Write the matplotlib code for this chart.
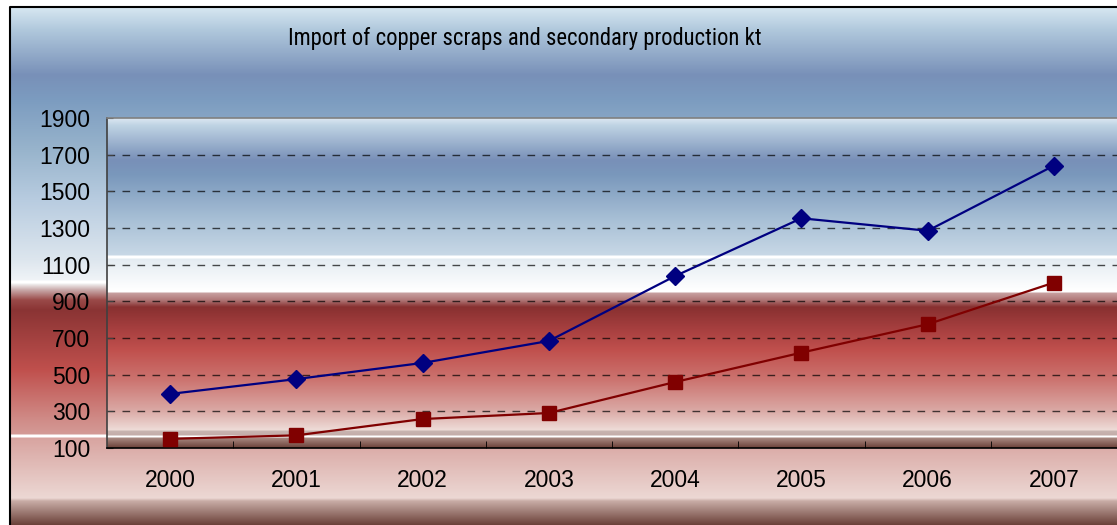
import numpy as np
import matplotlib
matplotlib.use("Agg")
import matplotlib.pyplot as plt
from matplotlib.colors import to_rgb

plt.rcParams['font.family'] = ['Liberation Sans', 'DejaVu Sans']
plt.rcParams['lines.scale_dashes'] = False

# data
years = ['2000', '2001', '2002', '2003', '2004', '2005', '2006', '2007']
import_scraps = [395, 476, 564, 684, 1038, 1353, 1285, 1640]
secondary_prod = [150, 169, 258, 291, 460, 620, 775, 1002]
y_ticks = [100, 300, 500, 700, 900, 1100, 1300, 1500, 1700, 1900]
title = "Import of copper scraps and secondary production kt"

W, H = 1117, 525


def gradient(stops, y0, y1):
    # vertical colour ramp, one row per pixel
    ys = np.arange(y0, y1) + 0.5
    pos = [p for p, c in stops]
    cols = np.array([to_rgb(c) for p, c in stops])
    img = np.stack([np.interp(ys, pos, cols[:, k]) for k in range(3)], axis=-1)
    return img[:, None, :]


fig_stops = [
    (7, '#d8e8f2'), (30, '#b0c8dc'), (75, '#7890b8'), (100, '#7c9cc0'),
    (150, '#98b4cc'), (200, '#b8cce0'), (260, '#dde6ee'), (280, '#f0f4f7'),
    (281, '#ffffff'), (283, '#ffffff'), (284, '#f0eeee'), (290, '#c8a8a8'),
    (300, '#9a4a48'), (310, '#8a3434'), (370, '#c0504d'), (420, '#d08c88'),
    (434, '#d49a96'), (435, '#ffffff'), (437, '#ffffff'), (438, '#d8a4a0'),
    (498, '#ecd8d4'), (501, '#c8aca6'), (525, '#6a4038'),
]

plot_stops = [
    (118, '#dce8f2'), (125, '#c0d4e4'), (160, '#7890b8'), (175, '#7a98bc'),
    (220, '#a8c0d6'), (255, '#c8d8e6'), (256, '#ffffff'), (258, '#ffffff'),
    (259, '#e4ecf2'), (290, '#ffffff'), (292, '#ffffff'), (293, '#c8a0a0'),
    (300, '#b07878'), (307, '#883030'), (330, '#a84040'), (350, '#c0504d'),
    (380, '#cc7470'), (410, '#daa8a4'), (430, '#eedcd8'), (431, '#c8b4b0'),
    (435, '#c4aca8'), (436, '#ffffff'), (437, '#ffffff'), (438, '#a88880'),
    (448, '#6a4038'),
]

fig = plt.figure(figsize=(W / 100, H / 100), dpi=100)

# figure background in pixel coordinates
bg = fig.add_axes([0, 0, 1, 1])
bg.axis('off')
bg.imshow(gradient(fig_stops, 7, H), extent=(10, W, H, 7), aspect='auto',
          interpolation='nearest')
bg.plot([10, 10, W], [H, 7, 7], color='black', lw=1.5)
bg.set_xlim(0, W)
bg.set_ylim(H, 0)

ax = fig.add_axes([107 / W, (H - 448) / H, (W - 107) / W, (448 - 118) / H])
x = np.arange(len(years))
ax.imshow(gradient(plot_stops, 118, 448)[::-1], extent=(-0.5, 7.5, 100, 1900),
          aspect='auto', origin='lower', interpolation='nearest', zorder=0)

for v in y_ticks[1:-1]:
    ax.axhline(v, color='black', alpha=0.7, lw=1, dashes=(5.5, 5.3), zorder=1)

ax.plot(x, import_scraps, color='#000080', lw=1.6, marker='D', ms=9, zorder=3)
ax.plot(x, secondary_prod, color='#800000', lw=1.6, marker='s', ms=10.5, zorder=3)

ax.set_xlim(-0.5, 7.5)
ax.set_ylim(100, 1900)
ax.set_yticks(y_ticks)
ax.set_xticks(x)
ax.set_xticklabels(years)
ax.set_xticks(np.arange(0.5, 7.5, 1), minor=True)
ax.tick_params(axis='x', which='major', length=0, pad=15, labelsize=16.5)
ax.tick_params(axis='x', which='minor', direction='in', length=5, color='black')
ax.tick_params(axis='y', direction='in', length=4, pad=12, labelsize=16.5, color='#404040')

ax.spines['left'].set_color('#404040')
ax.spines['left'].set_linewidth(1.2)
ax.spines['bottom'].set_color('black')
ax.spines['bottom'].set_linewidth(1.2)
ax.spines['top'].set_color('#808080')
ax.spines['top'].set_linewidth(1.2)
ax.spines['right'].set_visible(False)

fig.text(525 / W, 1 - 38 / H, title, ha='center', va='center', fontsize=16.3,
         family=['Roboto Condensed', 'Liberation Sans', 'DejaVu Sans'])

fig.savefig("out.png", dpi=100)
